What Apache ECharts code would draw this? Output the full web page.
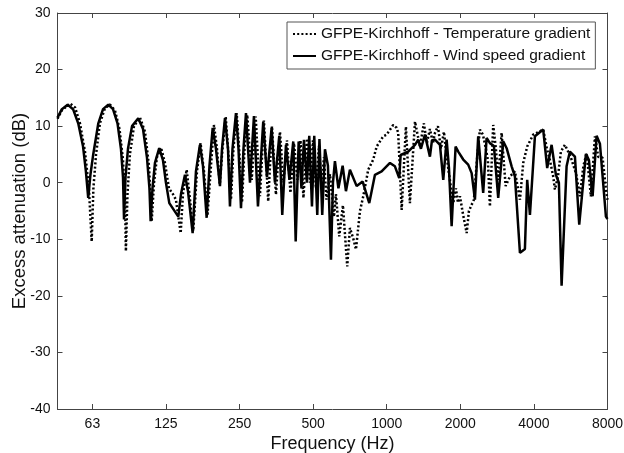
<!DOCTYPE html>
<html>
<head>
<meta charset="utf-8">
<script src="https://cdn.jsdelivr.net/npm/echarts@6/dist/echarts.min.js"></script>
<style>
html,body{margin:0;padding:0;background:#fff;}
#chart{width:624px;height:453px;}
</style>
</head>
<body>
<div id="chart"></div>
<script>
// Frequency axis ticks (Hz) and their labels
var tickFreqs = [62.5, 125, 250, 500, 1000, 2000, 4000, 8000];
var tickLabels = ['63', '125', '250', '500', '1000', '2000', '4000', '8000'];
var freqMin = 45, freqMax = 8000;
var yTicks = [-40, -30, -20, -10, 0, 10, 20, 30];

// GFPE-Kirchhoff - Temperature gradient (dotted)
var tempFreq = [45,46.9,50.6,53.1,55.6,58.3,60.5,62.1,63.1,64.7,67.1,70.4,73.8,77.3,80.7,83.4,85.0,85.7,87.0,89.0,
 92.5,97.9,102.6,106.5,109.3,111.7,114.8,119.3,123.8,128.6,133.9,137.3,143.6,146.7,151.9,155.9,161.6,167.4,173.1,178.8,
 184.8,191.0,196.5,202.1,207.5,212.9,219.4,225.2,230.6,236.0,243.3,249.8,255.8,261.9,268.8,280.3,291.0,302.9,314.5,327.5,
 339.2,352.2,365.8,378.1,390.7,403.8,417.3,431.3,443.8,456.3,471.6,485.2,499.1,513.5,528.2,540.6,553.6,566.7,585.7,608.2,
 619.7,639.3,661.9,689.2,707.0,718.6,730.9,748.4,777.0,801.6,840.2,880.8,909.6,967.7,999.1,1063,1098,1114,1151,1198,
 1244,1305,1367,1419,1460,1502,1545,1575,1620,1666,1714,1755,1805,1871,1919,1955,1993,2050,2123,2169,
 2225,2273,2339,2405,2474,2545,2593,2643,2726,2796,2858,2951,3065,3191,3345,3507,3617,3755,3974,4104,
 4366,4521,4651,4797,4874,5014,5158,5356,5651,5942,6170,6377,6572,6843,7107,7329,7639,7883,8000];
var tempDb = [11.3,12.8,14.0,13.3,10.5,5.5,-1,-10.4,-1,5,10.5,13.2,13.8,12.8,9.5,4,-3,-12.1,-2,5,
 10,11.5,9,3,-6.8,0,4.5,6.2,3.5,-1,-2.1,-3,-8.9,-2,2.3,-2,-8.5,2,7.0,2,
 -5.8,3,10.2,6,-0.3,6,11.7,5,-3.0,6,12.3,5,-3.5,6,12.0,0.5,11.7,-2.4,11.0,-3.3,
 10.0,-2.1,9.0,0,7.5,-1.8,7.0,0.5,7.5,-2.7,7.8,0,7.5,-1,6.5,-0.5,4.5,-3.0,1.5,-6,
 -2,-9.5,-4,-14.8,-8,-7.7,-10,-11.8,-5,-2.4,2.3,4.1,6.4,8.2,8.5,10.2,9.7,8.8,-4.8,9.9,
 -3.6,10.8,6.4,10.5,7,9.5,7,8.8,10.0,6,9,5,1,-3.6,-1,-3.5,-2.4,-5.5,-8.9,-5,
 -3.9,-3,4,9.4,8.5,6,4,-4.2,10.2,6,0.5,8.8,-0.6,1.1,2,-3.0,3.5,6.4,8.5,8.8,
 9.4,6,4,1.1,-1.2,1,5.5,6.7,4.6,1.7,-2.4,3,5.2,-2.4,8.2,4.6,4.4,-1.2,-3];

// GFPE-Kirchhoff - Wind speed gradient (solid)
var windFreq = [45,46.9,49.5,52.1,54.7,57.2,58.8,60.1,61.4,63.0,66.1,69.1,72.6,75.9,79.2,81.8,83.4,84.2,85.4,87.4,
 90.8,96.3,100.7,104.5,107.0,108.2,110.1,112.7,117.3,121.5,125.0,129.0,140.4,144.0,149.5,153.8,160.7,165.8,172.1,177.1,
 183.4,188.3,194.1,200.2,207.9,211.9,217.9,224.2,228.4,233.9,241.7,247.5,253.4,259.4,265.6,275.8,286.3,297.3,312.5,323.6,
 338.2,348.9,363.4,373.8,387.1,400.0,414.6,424.2,436.2,447.9,458.5,471.6,482.0,494.5,505.2,519.8,530.6,544.7,558.9,574.8,
 591.3,602.6,613.9,634.4,660.1,681.0,707.0,753.3,797.1,848.3,895.0,953.1,1031,1080,1125,1140,1224,1305,1345,1380,
 1433,1502,1531,1575,1651,1703,1758,1797,1843,1913,1961,2056,2154,2225,2295,2367,2481,2562,2643,2744,
 2858,2996,3094,3243,3345,3507,3675,3755,3853,4038,4366,4533,4726,4920,5061,5192,5442,5614,5886,6130,
 6529,6716,6953,7219,7449,7883,8000];
var windDb = [11.5,13.0,13.8,13.0,10.5,6.5,2.0,-2.7,1.5,5.0,10.5,13.0,13.8,13.0,10.5,6.0,1.0,-6.5,1.0,6.0,
 10.0,11.4,9.5,4.5,-1.0,-6.8,-1.0,3.5,6.1,4.0,0,-3.6,-6.0,-2,1.4,-1.5,-8.9,2.0,6.7,3,
 -6.2,3,9.7,6,-0.6,6,11.4,6,-4.2,6,12.3,6,-4.5,6,12.3,0.0,11.8,-4.2,10.8,1.0,
 9.7,0,8.3,-5.7,6.7,0.5,7.3,-10.4,7.3,-1.0,7.6,0.0,8.3,-4.2,8.3,-5.7,7.7,-5.7,5.9,3,
 -13.6,0,3.8,-1.0,3.0,-1.5,2.3,-0.6,0.2,-3.6,1.4,2.0,3.5,2.9,0.8,4.9,5.5,6.7,7.6,6.0,
 8.5,4.6,7.5,7.6,6.7,0.5,7.6,2.6,-7.7,6.4,5.5,4.1,3.2,1.7,-3.0,8.2,-1.8,7.9,7.0,6.5,
 -2.7,7.3,6.1,2.9,1.1,-12.4,-11.7,0.5,-5.7,8.2,9.4,2.6,6.7,1.4,0,-18.2,2.9,5.5,4.6,-7.4,
 5.1,4.0,-2.4,8.3,6.9,-6.0,-6.4];

function toPts(fr, db) {
  return fr.map(function (f, i) { return [Math.log2(f), db[i]]; });
}
var tickPos = tickFreqs.map(function (f) { return Math.log2(f); });
function fmtX(v) {
  var best = 0, bd = 1e9;
  for (var i = 0; i < tickPos.length; i++) {
    var d = Math.abs(tickPos[i] - v);
    if (d < bd) { bd = d; best = i; }
  }
  return tickLabels[best];
}

var font = 'Arial, "Liberation Sans", Helvetica, sans-serif';
var axisCol = '#444';
var txtCol = '#111';

var chart = echarts.init(document.getElementById('chart'), null, {renderer: 'canvas'});
var xBase = {
  type: 'value',
  min: Math.log2(freqMin),
  max: Math.log2(freqMax),
  axisLine: {show: true, onZero: false, lineStyle: {color: axisCol, width: 1}},
  axisTick: {show: true, inside: true, length: 5, customValues: tickPos, lineStyle: {color: axisCol}},
  splitLine: {show: false}
};
var yBase = {
  type: 'value',
  min: -40, max: 30, interval: 10,
  axisLine: {show: true, onZero: false, lineStyle: {color: axisCol, width: 1}},
  axisTick: {show: true, inside: true, length: 5, lineStyle: {color: axisCol}},
  splitLine: {show: false}
};
var option = {
  animation: false,
  backgroundColor: '#fff',
  grid: {left: 57.5, right: 16.5, top: 13, bottom: 44, containLabel: false, outerBoundsMode: 'none'},
  legend: {
    orient: 'vertical',
    left: 287, top: 22,
    padding: [4, 5, 5, 5],
    itemGap: 6,
    itemWidth: 23, itemHeight: 14,
    borderColor: '#555', borderWidth: 1,
    backgroundColor: '#fff',
    itemStyle: {opacity: 0},
    textStyle: {fontFamily: font, fontSize: 15.5, color: txtCol},
    data: ['GFPE-Kirchhoff - Temperature gradient', 'GFPE-Kirchhoff - Wind speed gradient']
  },
  xAxis: [
    Object.assign({}, xBase, {
      position: 'bottom',
      name: 'Frequency (Hz)', nameLocation: 'middle', nameGap: 26, nameMoveOverlap: false,
      nameTextStyle: {fontFamily: font, fontSize: 18, color: txtCol},
      axisLabel: {show: true, customValues: tickPos, formatter: fmtX, margin: 8,
        fontFamily: font, fontSize: 14, color: txtCol, showMaxLabel: true, showMinLabel: true}
    }),
    Object.assign({}, xBase, {position: 'top', axisLabel: {show: false}})
  ],
  yAxis: [
    Object.assign({}, yBase, {
      position: 'left',
      name: 'Excess attenuation (dB)', nameLocation: 'middle', nameGap: 28, nameRotate: 90, nameMoveOverlap: false,
      nameTextStyle: {fontFamily: font, fontSize: 18.5, color: txtCol},
      axisLabel: {show: true, margin: 7, fontFamily: font, fontSize: 14, color: txtCol}
    }),
    Object.assign({}, yBase, {position: 'right', axisLabel: {show: false}})
  ],
  series: [
    {
      name: 'GFPE-Kirchhoff - Temperature gradient',
      type: 'line', xAxisIndex: 0, yAxisIndex: 0,
      data: toPts(tempFreq, tempDb),
      symbol: 'none', smooth: false,
      lineStyle: {color: '#000', width: 2.5, type: [2, 2.2], cap: 'butt'},
      itemStyle: {color: '#000'}
    },
    {
      name: 'GFPE-Kirchhoff - Wind speed gradient',
      type: 'line', xAxisIndex: 0, yAxisIndex: 0,
      data: toPts(windFreq, windDb),
      symbol: 'none', smooth: false,
      lineStyle: {color: '#000', width: 2.5, type: 'solid'},
      itemStyle: {color: '#000'}
    }
  ]
};
chart.setOption(option);
</script>
</body>
</html>
